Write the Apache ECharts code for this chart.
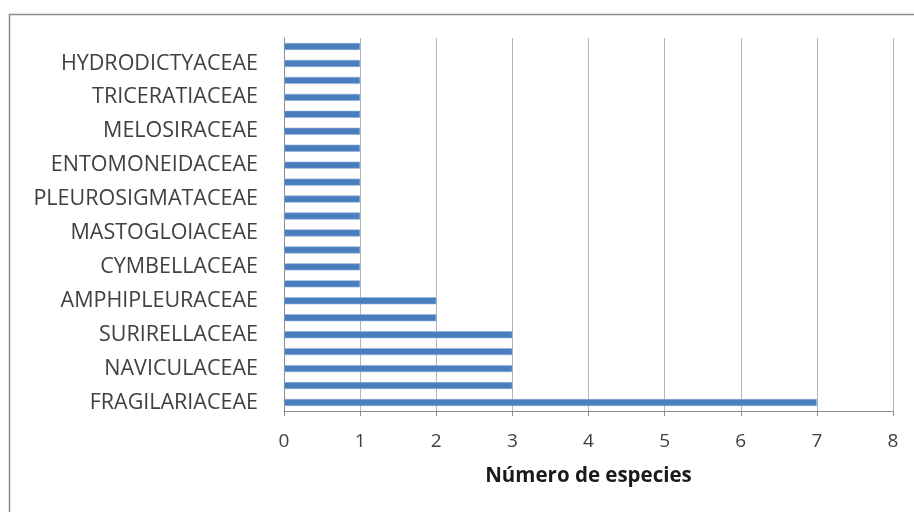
<!DOCTYPE html>
<html>
<head>
<meta charset="utf-8">
<script src="https://cdn.jsdelivr.net/npm/echarts@6/dist/echarts.min.js"></script>
<style>
  html, body { margin: 0; padding: 0; background: #ffffff; }
  #chart { width: 914px; height: 512px; }
</style>
</head>
<body>
<div id="chart"></div>
<script>
// Families listed bottom to top; every other row carries a printed name.
const families = [
  'FRAGILARIACEAE', '', 'NAVICULACEAE', '', 'SURIRELLACEAE', '',
  'AMPHIPLEURACEAE', '', 'CYMBELLACEAE', '', 'MASTOGLOIACEAE', '',
  'PLEUROSIGMATACEAE', '', 'ENTOMONEIDACEAE', '', 'MELOSIRACEAE', '',
  'TRICERATIACEAE', '', 'HYDRODICTYACEAE', ''
];
// Number of species per row, same order as above.
const speciesCount = [7, 3, 3, 3, 3, 2, 2, 1, 1, 1, 1, 1, 1, 1, 1, 1, 1, 1, 1, 1, 1, 1];
const xTicks = [0, 1, 2, 3, 4, 5, 6, 7, 8];
const xTitle = 'Número de especies';

const chart = echarts.init(document.getElementById('chart'), null, { renderer: 'canvas' });

chart.setOption({
  animation: false,
  backgroundColor: '#ffffff',
  graphic: [{
    type: 'rect',
    shape: { x: 9.5, y: 14.5, width: 1000, height: 600 },
    style: { fill: 'none', stroke: '#8c8c8c', lineWidth: 1.5 },
    silent: true
  }],
  grid: { left: 284, right: 21, top: 38, bottom: 101, containLabel: false },
  xAxis: {
    type: 'value',
    min: xTicks[0],
    max: xTicks[xTicks.length - 1],
    interval: 1,
    name: xTitle,
    nameLocation: 'middle',
    nameGap: 55,
    nameTextStyle: { fontFamily: 'Open Sans', fontSize: 20.5, fontWeight: 'bold', color: '#1a1a1a' },
    axisLine: { show: true, lineStyle: { color: '#8c8c8c', width: 1 } },
    axisTick: { show: true, length: 5, lineStyle: { color: '#8c8c8c' } },
    axisLabel: { margin: 21, fontFamily: 'Open Sans', fontSize: 19, color: '#404040' },
    splitLine: { show: true, lineStyle: { color: '#b4b4b4', width: 1 } }
  },
  yAxis: {
    type: 'category',
    data: families,
    axisLine: { show: true, lineStyle: { color: '#8c8c8c', width: 1 } },
    axisTick: { show: false },
    axisLabel: { interval: 0, margin: 26, fontFamily: 'Open Sans', fontSize: 21.5, color: '#404040' },
    splitLine: { show: false }
  },
  series: [{
    type: 'bar',
    data: speciesCount,
    barWidth: 7,
    itemStyle: { color: '#4a7dbd', borderColor: '#8fb0da', borderWidth: 0.6 }
  }]
});
</script>
</body>
</html>
